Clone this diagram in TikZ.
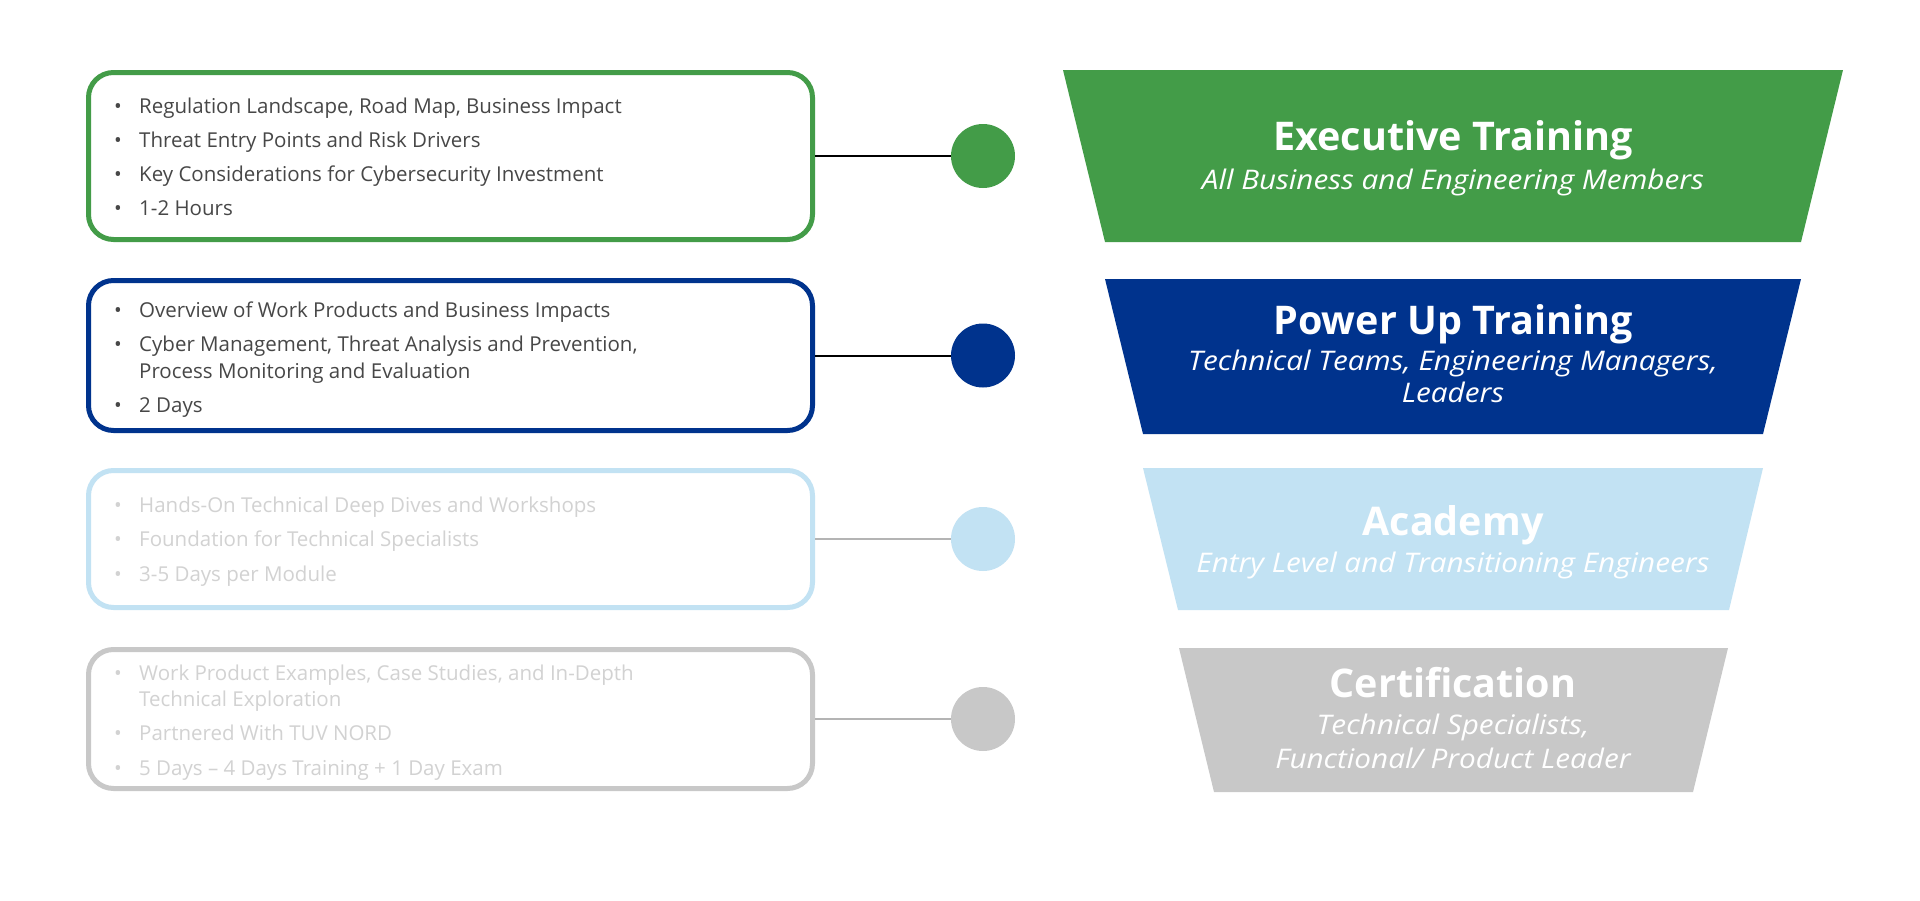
\documentclass[tikz,border=0pt]{standalone}
\usepackage{fontspec}
\setmainfont{Open Sans}
\definecolor{cgreen}{HTML}{439C48}
\definecolor{cblue}{HTML}{00338D}
\definecolor{clight}{HTML}{C2E2F3}
\definecolor{cgray}{HTML}{C8C8C8}
\definecolor{tdark}{HTML}{474747}
\definecolor{tlight}{HTML}{D2D2D2}
\definecolor{llight}{HTML}{B4B4B4}
\newcommand\bul{\makebox[25pt][l]{•}}
\tikzset{
  panel/.style={draw, line width=5pt, rounded corners=25pt, fill=white, minimum width=724pt, inner sep=0pt},
  item/.style={anchor=base west, inner sep=0pt, font=\fontsize{20.5}{24}\selectfont},
  dot/.style={circle, minimum size=64pt, inner sep=0pt, outer sep=0pt},
  ttl/.style={anchor=base, inner sep=0pt, text=white, font=\fontsize{39.5}{46}\selectfont\bfseries},
  sub/.style={anchor=base, inner sep=0pt, text=white, font=\fontsize{27}{32}\selectfont\itshape\addfontfeature{FakeStretch=1.1}},
  link/.style={line width=2pt},
}
\begin{document}
\begin{tikzpicture}[x=1pt,y=-1pt]
\useasboundingbox[fill=white] (0,0) rectangle (1920,900);

% left panels
\node[panel, draw=cgreen, minimum height=167pt] (gbox) at (450.5,156) {};
\node[panel, draw=cblue,  minimum height=150pt] (bbox) at (450.5,355.5) {};
\node[panel, draw=clight, minimum height=137pt] (lbox) at (450.5,539) {};
\node[panel, draw=cgray,  minimum height=139pt] (ybox) at (450.5,719) {};

% dots
\node[dot, fill=cgreen] (gdot) at (983,156) {};
\node[dot, fill=cblue]  (bdot) at (983,355.5) {};
\node[dot, fill=clight] (ldot) at (983,539) {};
\node[dot, fill=cgray]  (ydot) at (983,719) {};

% connectors
\draw[link, black]  (gbox.east) -- (gdot.west);
\draw[link, black]  (bbox.east) -- (bdot.west);
\draw[link, llight] (lbox.east) -- (ldot.west);
\draw[link, llight] (ybox.east) -- (ydot.west);

% items: green
\node[item, text=tdark] (g1) at (114,113) {\bul Regulation Landscape, Road Map, Business Impact};
\node[item, text=tdark] (g2) at (114,147) {\bul Threat Entry Points and Risk Drivers};
\node[item, text=tdark] (g3) at (114,181) {\bul Key Considerations for Cybersecurity Investment};
\node[item, text=tdark] (g4) at (114,215) {\bul 1-2 Hours};
% items: blue
\node[item, text=tdark] (b1) at (114,317) {\bul Overview of Work Products and Business Impacts};
\node[item, text=tdark] (b2) at (114,351) {\bul Cyber Management, Threat Analysis and Prevention,};
\node[item, text=tdark] (b2b) at (139,378) {Process Monitoring and Evaluation};
\node[item, text=tdark] (b3) at (114,412) {\bul 2 Days};
% items: light
\node[item, text=tlight] (l1) at (114,512) {\bul Hands-On Technical Deep Dives and Workshops};
\node[item, text=tlight] (l2) at (114,546) {\bul Foundation for Technical Specialists};
\node[item, text=tlight] (l3) at (114,581) {\bul 3-5 Days per Module};
% items: gray
\node[item, text=tlight] (y1) at (114,680) {\bul Work Product Examples, Case Studies, and In-Depth};
\node[item, text=tlight] (y1b) at (139,706) {Technical Exploration};
\node[item, text=tlight] (y2) at (114,740) {\bul Partnered With TUV NORD};
\node[item, text=tlight] (y3) at (114,775) {\bul 5 Days – 4 Days Training + 1 Day Exam};

% funnel
\fill[cgreen] (1063,70) -- (1843,70) -- (1801,242) -- (1105,242) -- cycle;
\fill[cblue]  (1105,279) -- (1801,279) -- (1763,434) -- (1143,434) -- cycle;
\fill[clight] (1143,468) -- (1763,468) -- (1729,610) -- (1178,610) -- cycle;
\fill[cgray]  (1179,648) -- (1728,648) -- (1693,792) -- (1214,792) -- cycle;

\node[ttl] (gt) at (1453,150) {Executive Training};
\node[sub] (gs) at (1453,189) {All Business and Engineering Members};
\node[ttl] (bt) at (1453,334) {Power Up Training};
\node[sub] (bs1) at (1453,370) {Technical Teams, Engineering Managers,};
\node[sub] (bs2) at (1453,402) {Leaders};
\node[ttl] (lt) at (1453,535) {Academy};
\node[sub] (ls) at (1453,572) {Entry Level and Transitioning Engineers};
\node[ttl] (yt) at (1453,697) {Certification};
\node[sub] (ys1) at (1453,734) {Technical Specialists,};
\node[sub] (ys2) at (1453,768) {Functional/ Product Leader};
\end{tikzpicture}
\end{document}
